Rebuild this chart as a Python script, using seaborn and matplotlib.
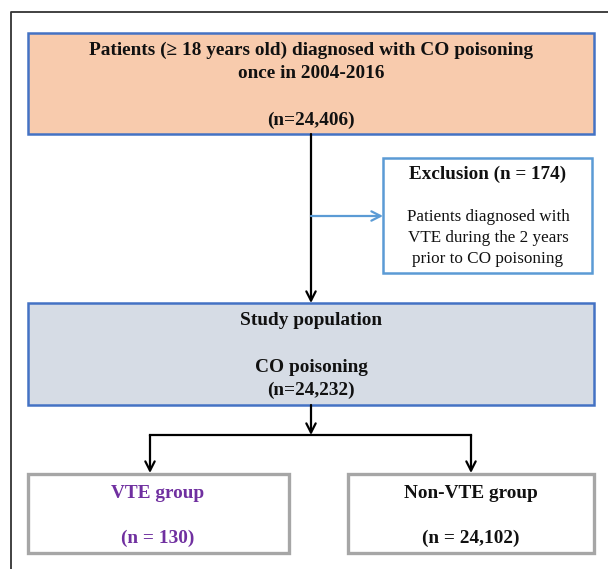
import numpy as np
import pandas as pd
import seaborn as sns
import matplotlib.pyplot as plt
from matplotlib.patches import Rectangle

# flowchart content
stage_names = ["Patients (\u2265 18 years old) diagnosed with CO poisoning\nonce in 2004-2016",
               "Exclusion", "Study population", "VTE group", "Non-VTE group"]
stage_counts = [24406, 174, 24232, 130, 24102]
exclusion_reason = "Patients diagnosed with\nVTE during the 2 years\nprior to CO poisoning"

sns.set_theme(style="white")
plt.rcParams['font.family'] = ['Liberation Serif', 'DejaVu Serif']

fig = plt.figure(figsize=(6.08, 5.69), dpi=100)
ax = fig.add_axes([0, 0, 1, 1])
ax.set_xlim(0, 608)
ax.set_ylim(569, 0)
ax.axis('off')

blue = '#4472C4'
light_blue = '#5B9BD5'
gray = '#A6A6A6'
txt = '#111111'
purple = '#7030A0'
fs = 13.9


def box(x0, y0, x1, y1, fc, ec, lw):
    ax.add_patch(Rectangle((x0, y0), x1 - x0, y1 - y0, facecolor=fc, edgecolor=ec, linewidth=lw, zorder=2))


def lines(x, y0, step, s, **kw):
    # one text per line so the line gap matches the reference
    for i, ln in enumerate(s.split('\n')):
        ax.text(x, y0 + i * step, ln, ha='center', va='center', zorder=4, **kw)


def arrow(x0, y0, x1, y1, color='black', lw=1.6):
    ax.annotate('', xy=(x1, y1), xytext=(x0, y0),
                arrowprops=dict(arrowstyle='->,head_length=0.55,head_width=0.28', color=color, lw=lw,
                                shrinkA=0, shrinkB=0), zorder=3)


# outer frame
ax.plot([11, 11, 608], [569, 12, 12], color='#333333', lw=1.3, zorder=1)

# top box
box(28, 33, 594, 134, '#F8CBAD', blue, 1.8)
lines(311, 50, 23, stage_names[0], fontsize=fs, fontweight='bold', color=txt)
lines(311, 120, 0, f"(n={stage_counts[0]:,})", fontsize=fs, fontweight='bold', color=txt)

# main vertical arrow
arrow(311, 134, 311, 303)

# exclusion
arrow(311, 216, 383, 216, color=light_blue, lw=1.6)
box(383, 158, 592, 273, 'white', light_blue, 1.8)
lines(488, 174, 0, f"{stage_names[1]} (n = {stage_counts[1]})", fontsize=13.8,
      fontweight='bold', color=txt)
lines(488, 217, 21, exclusion_reason, fontsize=12.3, color=txt)

# study population
box(28, 303, 594, 405, '#D6DCE5', blue, 1.8)
lines(311, 320, 0, stage_names[2], fontsize=fs, fontweight='bold', color=txt)
lines(311, 367, 23, f"CO poisoning\n(n={stage_counts[2]:,})", fontsize=fs,
      fontweight='bold', color=txt)

# split
arrow(311, 405, 311, 435)
ax.plot([150, 471], [435, 435], color='black', lw=1.6, solid_capstyle='projecting', zorder=3)
arrow(150, 435, 150, 473)
arrow(471, 435, 471, 473)

# groups
box(28, 474, 289, 553, 'white', gray, 2.4)
lines(158, 493, 0, stage_names[3], fontsize=fs, fontweight='bold', color=purple)
lines(158, 538, 0, f"(n = {stage_counts[3]})", fontsize=fs, fontweight='bold', color=purple)

box(348, 474, 594, 553, 'white', gray, 2.4)
lines(471, 493, 0, stage_names[4], fontsize=fs, fontweight='bold', color=txt)
lines(471, 538, 0, f"(n = {stage_counts[4]:,})", fontsize=fs, fontweight='bold', color=txt)

fig.savefig('out.png', dpi=100)
